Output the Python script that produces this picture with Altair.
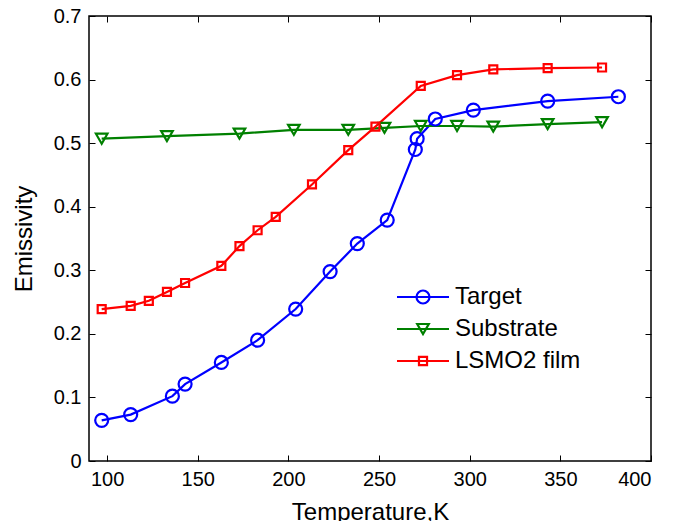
import altair as alt
import pandas as pd

series_names = ["Target", "Substrate", "LSMO2 film"]
series_colors = ["#0000ff", "#008000", "#ff0000"]
series_shapes = ["circle", "triangle-down", "square"]
series_sizes = [169, 134, 64]

# legend symbols: line segment with marker (unit = marker radius)
legend_paths = [
    "M-4,0L4,0M1,0A1,1,0,1,1,-1,0A1,1,0,1,1,1,0Z",
    "M-4,0L4,0M-0.89,-0.77L0.89,-0.77L0,0.77Z",
    "M-4,0L4,0M-0.62,-0.62L0.62,-0.62L0.62,0.62L-0.62,0.62Z",
]

target_T = [97, 113, 136, 143, 163, 183, 204, 223, 238, 254.5, 270, 271, 281, 302, 343, 382]
target_E = [0.064, 0.073, 0.102, 0.121, 0.155, 0.190, 0.239, 0.298, 0.342, 0.379, 0.490, 0.507, 0.538, 0.552, 0.566, 0.573]

substrate_T = [97, 133, 173, 203, 233, 253, 273, 293, 313, 343, 373]
substrate_E = [0.507, 0.511, 0.515, 0.521, 0.521, 0.524, 0.527, 0.527, 0.526, 0.530, 0.533]

film_T = [97, 113, 123, 133, 143, 163, 173, 183, 193, 213, 233, 248, 273, 293, 313, 343, 373]
film_E = [0.239, 0.244, 0.252, 0.266, 0.280, 0.307, 0.338, 0.363, 0.384, 0.435, 0.489, 0.526, 0.590, 0.607, 0.616, 0.618, 0.619]

x_ticks = [100, 150, 200, 250, 300, 350, 400]
y_ticks = [0, 0.1, 0.2, 0.3, 0.4, 0.5, 0.6, 0.7]

rows = []
for name, Ts, Es in [("Target", target_T, target_E),
                     ("Substrate", substrate_T, substrate_E),
                     ("LSMO2 film", film_T, film_E)]:
    for i, (t, e) in enumerate(zip(Ts, Es)):
        rows.append({"series": name, "T": t, "E": e, "order": i})
df = pd.DataFrame(rows)

FONT = "Liberation Sans"
xscale = alt.Scale(domain=[90, 400], nice=False, zero=False)
yscale = alt.Scale(domain=[0, 0.7], nice=False, zero=False)
color_scale = alt.Scale(domain=series_names, range=series_colors)


def tick_axis(orient):
    return alt.Axis(orient=orient, values=x_ticks if orient in ("top", "bottom") else y_ticks,
                    offset=-6, tickSize=6, tickColor="black", tickWidth=1,
                    labels=False, domain=False, grid=False, title=None)


base = alt.Chart(df)

lines = base.mark_line(strokeWidth=2.2).encode(
    x=alt.X("T:Q", scale=xscale,
            axis=alt.Axis(orient="bottom", values=x_ticks, title="Temperature,K", tickSize=0,
                          domain=False, grid=False, labelFont=FONT, labelFontSize=20,
                          labelColor="black", labelPadding=8, titleFont=FONT, titleFontSize=24,
                          titleFontWeight="normal", titleColor="black", titlePadding=11)),
    y=alt.Y("E:Q", scale=yscale,
            axis=alt.Axis(orient="left", values=y_ticks, format="~g", title="Emissivity", tickSize=0,
                          domain=False, grid=False, labelFont=FONT, labelFontSize=20,
                          labelColor="black", labelPadding=8, titleFont=FONT, titleFontSize=24,
                          titleFontWeight="normal", titleColor="black", titlePadding=17)),
    color=alt.Color("series:N", scale=color_scale),
    order="order:Q",
)

point_layers = []
for k, (name, shp, sz) in enumerate(zip(series_names, series_shapes, series_sizes)):
    point_layers.append(
        base.transform_filter(alt.datum.series == name)
        .mark_point(filled=False, strokeWidth=2.2, opacity=1, shape=shp, size=sz)
        .encode(
            x=alt.X("T:Q", scale=xscale, axis=tick_axis("bottom") if k == 0 else None),
            y=alt.Y("E:Q", scale=yscale, axis=tick_axis("left") if k == 0 else None),
            color=alt.Color("series:N", scale=color_scale),
        )
    )

leg = alt.Legend(orient="none", legendX=322, legendY=269, title=None,
                 padding=0, symbolSize=169, symbolStrokeWidth=2.2,
                 symbolFillColor="transparent", symbolOpacity=1, labelFont=FONT,
                 labelFontSize=24, labelColor="black", labelOffset=20, rowPadding=8)

legend_layer = base.mark_point(filled=False, strokeWidth=2, opacity=0).encode(
    x=alt.X("T:Q", scale=xscale, axis=tick_axis("top")),
    y=alt.Y("E:Q", scale=yscale, axis=tick_axis("right")),
    color=alt.Color("series:N", scale=color_scale, legend=leg),
    shape=alt.Shape("series:N", scale=alt.Scale(domain=series_names, range=legend_paths), legend=leg),
)

chart = alt.layer(lines, *point_layers, legend_layer).resolve_axis(
    x="independent", y="independent"
).properties(
    width=562, height=445,
    autosize=alt.AutoSizeParams(type="none"),
    padding={"left": 89, "top": 16, "right": 30, "bottom": 60},
    background="white",
).configure_view(stroke="black", strokeWidth=1.5)

chart.save("out.html", embed_options={"renderer": "svg", "actions": False})
